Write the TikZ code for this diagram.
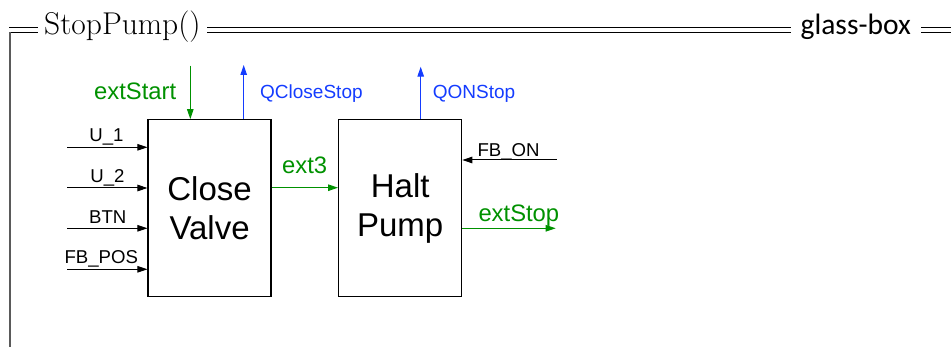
\documentclass[tikz,border=0pt]{standalone}
\usepackage{fontspec}
\usetikzlibrary{arrows.meta}
\newfontfamily\labfont{Liberation Sans}
\newfontfamily\gbfont{Carlito}
\definecolor{sgreen}{RGB}{0,145,0}
\definecolor{sblue}{RGB}{20,60,255}
\definecolor{framegray}{RGB}{90,90,90}
\begin{document}
\begin{tikzpicture}[x=1pt,y=-1pt,
  blk/.style={draw, line width=1.3pt, minimum width=123pt, minimum height=177pt, inner sep=0pt, align=center, font=\labfont\fontsize{33}{39}\selectfont},
  arr/.style={line width=1pt, -{Triangle[length=10pt,width=6.5pt]}},
  lbl/.style={font=\labfont\fontsize{18.6}{20}\selectfont, inner sep=0pt, anchor=base},
  glbl/.style={font=\labfont\fontsize{23.8}{26}\selectfont, inner sep=0pt, anchor=base west, text=sgreen},
  blbl/.style={font=\labfont\fontsize{19}{21}\selectfont, inner sep=0pt, anchor=base west, text=sblue},
  dl/.style={line width=1pt, black},
  vline/.style={line width=1.4pt, framegray},
  ttl/.style={font=\fontsize{31.5}{33}\selectfont, inner ysep=0pt, inner xsep=6.5pt, anchor=base west},
  gbl/.style={font=\gbfont\fontsize{29.5}{31}\selectfont, inner ysep=0pt, inner xsep=10pt, anchor=base west}
]
\useasboundingbox (0,0) rectangle (951,347);

% frame
\node[ttl] (t1) at (37.5,34.3) {StopPump()};
\node[gbl] (t2) at (790.5,34.3) {glass-box};
\coordinate (ta) at (9,27.2);
\coordinate (tb) at (10,32.2);
\coordinate (ea) at (951,27.2);
\coordinate (eb) at (951,32.2);
\coordinate (bot) at (10,347);
\draw[dl] (ta) -- (ta -| t1.west) (tb) -- (tb -| t1.west);
\draw[dl] (ta -| t1.east) -- (ta -| t2.west) (tb -| t1.east) -- (tb -| t2.west);
\draw[dl] (ta -| t2.east) -- (ea) (tb -| t2.east) -- (eb);
\draw[vline] (tb) -- (bot);

% blocks
\node[blk] (cv) at (209.6,208.3) {Close\\Valve};
\node[blk] (hp) at (400.2,208.3) {Halt\\Pump};

% inputs of Close Valve
\coordinate (i1) at (67,147.3);
\coordinate (i2) at (67,188);
\coordinate (i3) at (67,228.3);
\coordinate (i4) at (67,269.3);
\draw[arr] (i1) -- (i1 -| cv.west);
\draw[arr] (i2) -- (i2 -| cv.west);
\draw[arr] (i3) -- (i3 -| cv.west);
\draw[arr] (i4) -- (i4 -| cv.west);
\node[lbl] (l1) at (106.5,141.7) {U\_1};
\node[lbl] (l2) at (107.5,182.7) {U\_2};
\node[lbl] (l3) at (107.7,223.3) {BTN};
\node[lbl] (l4) at (101.3,264) {FB\_POS};

% top arrows
\coordinate (es) at (190.3,65.7);
\draw[arr,sgreen] (es) -- (es |- cv.north);
\node[glbl] (les) at (94,100) {extStart};
\coordinate (qc) at (243.7,65);
\draw[arr,sblue] (qc |- cv.north) -- (qc);
\node[blbl] (lqc) at (260,99) {QCloseStop};
\coordinate (qo) at (420.7,66.7);
\draw[arr,sblue] (qo |- hp.north) -- (qo);
\node[blbl] (lqo) at (432.7,99) {QONStop};

% between blocks
\coordinate (m3) at (300,187.7);
\draw[arr,sgreen] (m3 -| cv.east) -- (m3 -| hp.west);
\node[glbl] (l3x) at (282,174) {ext3};

% right side
\coordinate (fb) at (556.7,160);
\draw[arr] (fb) -- (fb -| hp.east);
\node[lbl, anchor=base west] (lfb) at (477.3,156.5) {FB\_ON};
\coordinate (xs) at (555.7,228.3);
\draw[arr,sgreen] (xs -| hp.east) -- (xs);
\node[glbl] (lxs) at (478.3,222) {extStop};
\end{tikzpicture}
\end{document}
